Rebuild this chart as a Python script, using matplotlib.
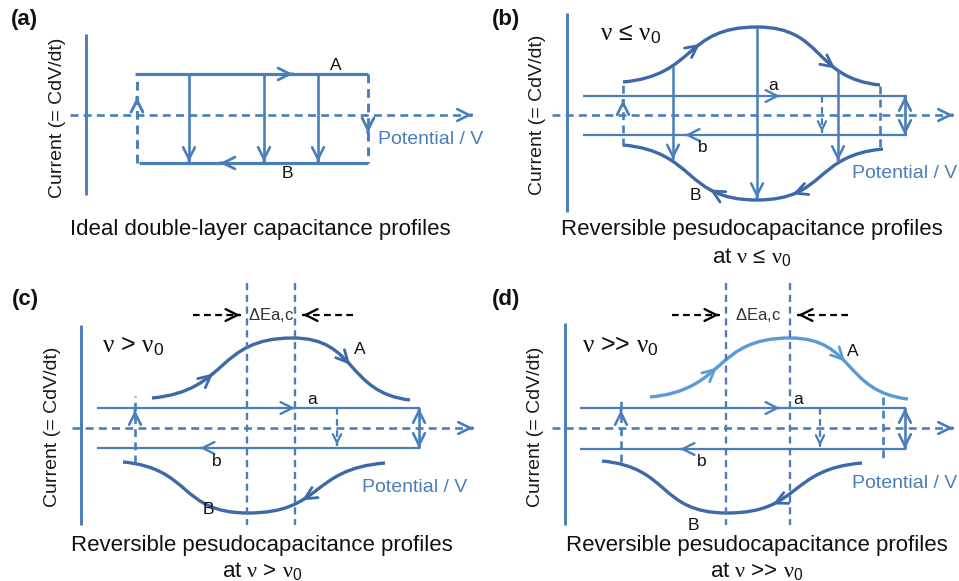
import numpy as np
import matplotlib.pyplot as plt
from matplotlib.path import Path
from matplotlib.patches import PathPatch

plt.rcParams['font.family'] = ['Liberation Sans', 'DejaVu Sans']
plt.rcParams['mathtext.fontset'] = 'custom'
plt.rcParams['mathtext.rm'] = 'Liberation Sans'
plt.rcParams['mathtext.it'] = 'Liberation Serif'

BLUE = '#4a7ebb'
DARK = '#3d69a7'
LIGHT = '#5b9bd5'

# ---- panel (a): ideal rectangular loop ----
a_box = (137, 368, 74, 163)          # left, right, top, bottom
a_drops = [189, 264, 318]

# ---- panels (b)-(d): (start, peak, end) of the A / B waves ----
b_wave_A = [(623, 82), (757, 27), (880, 85)]
b_wave_B = [(623, 145), (757, 200), (883, 149)]
c_wave_A = [(152, 398), (293, 338), (410, 400)]
c_wave_B = [(123, 462), (248, 513), (385, 463)]
d_wave_A = [(650, 397), (790, 338), (908, 399)]
d_wave_B = [(602, 461), (727, 513), (862, 463)]
b_drops = [673, 757, 838]

caption = 'Reversible pesudocapacitance profiles'
rates = [r'$\nu$ ≤ $\nu_0$', r'$\nu$ > $\nu_0$', r'$\nu$ >> $\nu_0$']

fig = plt.figure(figsize=(9.59, 5.81), dpi=100)
ax = fig.add_axes([0, 0, 1, 1])
ax.set_xlim(0, 959)
ax.set_ylim(581, 0)
ax.axis('off')


def seg(x0, y0, x1, y1, color=BLUE, lw=1.8, dashed=False):
    ls = (0, (3, 2)) if dashed else '-'
    ax.plot([x0, x1], [y0, y1], color=color, lw=lw, ls=ls,
            solid_capstyle='butt', dash_capstyle='butt')


def head(x, y, dx, dy, color=BLUE, lw=1.8, size=0.85):
    n = np.hypot(dx, dy)
    ax.annotate('', xy=(x, y), xytext=(x - dx / n * 0.5, y - dy / n * 0.5),
                arrowprops=dict(arrowstyle=f'->,head_length={size},head_width={size * 0.5}',
                                color=color, lw=lw, shrinkA=0, shrinkB=0))


def bell(pts, k=0.55, s=0.12):
    (x0, y0), (xp, yp), (x1, y1) = pts
    verts = [(x0, y0), (x0 + k * (xp - x0), y0 + s * (yp - y0)), (xp - k * (xp - x0), yp), (xp, yp),
             (xp + k * (x1 - xp), yp), (x1 - k * (x1 - xp), y1 + s * (yp - y1)), (x1, y1)]
    return verts


def sample(verts, n=200):
    out = []
    for i in (0, 3):
        p = np.array(verts[i:i + 4], dtype=float)
        t = np.linspace(0, 1, n)[:, None]
        out.append((1 - t) ** 3 * p[0] + 3 * (1 - t) ** 2 * t * p[1] + 3 * (1 - t) * t ** 2 * p[2] + t ** 3 * p[3])
    return np.vstack(out)


def wave(pts, color, lw=2.4):
    verts = bell(pts)
    codes = [Path.MOVETO] + [Path.CURVE4] * 6
    ax.add_patch(PathPatch(Path(verts, codes), fill=False, ec=color, lw=lw, capstyle='butt'))
    return sample(verts)


def wave_head(curve, x, forward, color):
    i = int(np.argmin(np.abs(curve[:, 0] - x)))
    d = curve[min(i + 3, len(curve) - 1)] - curve[max(i - 3, 0)]
    if not forward:
        d = -d
    head(curve[i, 0], curve[i, 1], d[0], d[1], color=color, lw=2)


def y_at(curve, x):
    return curve[int(np.argmin(np.abs(curve[:, 0] - x))), 1]


def frame(x_axis, y_axis, x_ylabel, y_ylabel):
    # current axis (solid) and potential axis (dashed, with arrow)
    xa0, xa1, ya = x_axis
    yx, yy0, yy1 = y_axis
    seg(yx, yy0, yx, yy1, lw=2.1)
    seg(xa0, ya, xa1, ya, lw=1.9, dashed=True)
    head(xa1, ya, 1, 0, lw=1.9)
    ax.text(x_ylabel, y_ylabel, 'Current (= CdV/dt)', rotation=90, ha='center', va='center',
            fontsize=14, color='#1a1a1a')


def flat_loop(xl, xr, ya, yb, xa_head, xb_head, xs, xdown):
    # straight 'a' and 'b' branches with the switching arrows
    seg(xl, ya, xr, ya, lw=1.6)
    seg(xl, yb, xr, yb, lw=1.6)
    head(xa_head, ya, 1, 0, lw=1.7)
    head(xb_head, yb, -1, 0, lw=1.7)
    seg(xs, ya, xs, yb, lw=1.9)
    head(xs, ya, 0, -1, lw=1.9)
    head(xs, yb, 0, 1, lw=1.9)
    seg(xdown, ya, xdown, yb - 3, lw=1.6, dashed=True)
    head(xdown, yb - 3, 0, 1, lw=1.6, size=0.6)


def delta_marks(x_lo, x_hi, y):
    # black dashed arrows pointing at the peak separation
    for x in (x_lo, x_hi):
        seg(x, 283, x, 525, lw=1.7, dashed=True)
    seg(x_lo - 54, y, x_lo - 9, y, color='black', lw=1.6, dashed=True)
    head(x_lo - 7, y, 1, 0, color='black', lw=1.7)
    seg(x_hi + 58, y, x_hi + 10, y, color='black', lw=1.6, dashed=True)
    head(x_hi + 8, y, -1, 0, color='black', lw=1.7)
    ax.text((x_lo + x_hi) / 2, y, r'$\Delta$Ea,c', fontsize=12, ha='center', va='center', color='#333333')


txt = dict(color='#111111')
lab = dict(fontsize=12.5, ha='center', va='center', color='#111111')

# ---------------- (a) ----------------
ax.text(11, 20, '(a)', fontsize=16, fontweight='bold', va='center', **txt)
frame((70, 472, 115), (86, 34, 195), 57, 118)
l, r, t, b = a_box
seg(l - 2, t, r, t, lw=2.3)
seg(l + 2, b, r, b, lw=2.3)
head(293, t, 1, 0, lw=2)
head(220, b, -1, 0, lw=2)
seg(l, b, l, t, lw=2.1, dashed=True)
head(l, 97, 0, -1, lw=2.1)
seg(r, t, r, b, lw=2.1, dashed=True)
head(r, 133, 0, 1, lw=2.1)
for x in a_drops:
    seg(x, t, x, b - 1, lw=1.9)
    head(x, b - 1, 0, 1, lw=1.9)
ax.text(336, 66, 'A', **lab)
ax.text(287, 174, 'B', **lab)
ax.text(378, 140, 'Potential / V', fontsize=14, color=BLUE, va='center')
ax.text(260, 230, 'Ideal double-layer capacitance profiles', fontsize=16, ha='center', va='center', **txt)

# ---------------- (b) ----------------
ax.text(492, 20, '(b)', fontsize=16, fontweight='bold', va='center', **txt)
frame((552, 953, 115), (567, 13, 212), 537, 115)
ax.text(600, 34, rates[0], fontsize=18, va='center', **txt)
flat_loop(583, 907, 96, 135, 780, 685, 905, 822)
ax.text(773, 86, 'a', **lab)
ax.text(703, 147, 'b', **lab)
up = wave(b_wave_A, DARK)
dn = wave(b_wave_B, DARK)
seg(623, 146, 623, 82, lw=1.9, dashed=True)
head(623, 100, 0, -1, lw=1.9)
seg(880, 86, 880, 149, lw=1.9, dashed=True)
for x in b_drops:
    y0, y1 = y_at(up, x), y_at(dn, x)
    seg(x, y0, x, y1 - 2, lw=1.8)
    head(x, y1 - 2, 0, 1, lw=1.8)
wave_head(up, 700, True, DARK)
wave_head(up, 835, True, DARK)
wave_head(dn, 710, False, DARK)
wave_head(dn, 793, False, DARK)
ax.text(695, 195, 'B', **lab)
ax.text(852, 173, 'Potential / V', fontsize=14, color=BLUE, va='center')
ax.text(752, 230, caption, fontsize=16, ha='center', va='center', **txt)
ax.text(752, 257, 'at ' + rates[0], fontsize=16, ha='center', va='center', **txt)

# ---------------- (c) ----------------
ax.text(12, 300, '(c)', fontsize=16, fontweight='bold', va='center', **txt)
delta_marks(247, 295, 315)
frame((72, 473, 428), (81, 325, 525), 53, 427)
ax.text(102, 346, rates[1], fontsize=18, va='center', **txt)
flat_loop(97, 420, 408, 448, 295, 200, 419, 337)
ax.text(312, 400, 'a', **lab)
ax.text(217, 462, 'b', **lab)
seg(135, 463, 135, 396, lw=1.9, dashed=True)
head(135, 410, 0, -1, lw=1.9)
up = wave(c_wave_A, DARK)
dn = wave(c_wave_B, DARK)
wave_head(up, 213, True, DARK)
wave_head(up, 350, True, DARK)
wave_head(dn, 302, False, DARK)
ax.text(360, 350, 'A', **lab)
ax.text(208, 510, 'B', **lab)
ax.text(362, 487, 'Potential / V', fontsize=14, color=BLUE, va='center')
ax.text(262, 545, caption, fontsize=16, ha='center', va='center', **txt)
ax.text(262, 571, 'at ' + rates[1], fontsize=16, ha='center', va='center', **txt)

# ---------------- (d) ----------------
ax.text(492, 300, '(d)', fontsize=16, fontweight='bold', va='center', **txt)
delta_marks(726, 790, 315)
frame((552, 953, 428), (565, 323, 525), 535, 427)
ax.text(582, 346, rates[2], fontsize=18, va='center', **txt)
flat_loop(580, 905, 408, 449, 780, 680, 905, 820)
ax.text(798, 400, 'a', **lab)
ax.text(702, 462, 'b', **lab)
seg(621, 462, 621, 397, lw=1.9, dashed=True)
head(621, 410, 0, -1, lw=1.9)
seg(883, 397, 883, 462, lw=1.9, dashed=True)
up = wave(d_wave_A, LIGHT)
dn = wave(d_wave_B, DARK)
wave_head(up, 717, True, LIGHT)
wave_head(up, 845, True, LIGHT)
wave_head(dn, 773, False, DARK)
ax.text(853, 352, 'A', **lab)
ax.text(693, 525, 'B', **lab)
ax.text(852, 483, 'Potential / V', fontsize=14, color=BLUE, va='center')
ax.text(757, 545, caption, fontsize=16, ha='center', va='center', **txt)
ax.text(757, 571, 'at ' + rates[2], fontsize=16, ha='center', va='center', **txt)

fig.savefig('out.png', dpi=100)
